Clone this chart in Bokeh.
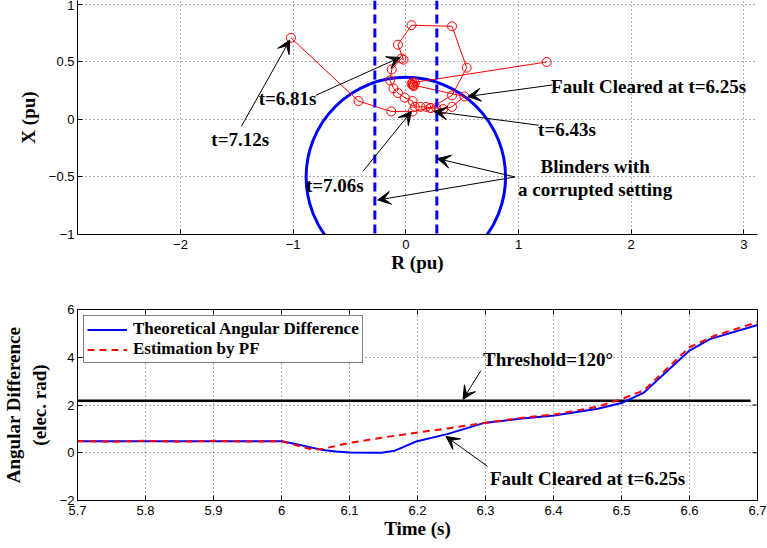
import math
from bokeh.plotting import figure
from bokeh.models import Label, Arrow, VeeHead, Span, FixedTicker, Range1d
from bokeh.layouts import column
from bokeh.embed import file_html
from bokeh.resources import INLINE

# ---------------- data: impedance plane ----------------
traj_R = [1.25, 0.06, 0.07, 0.05, 0.08, 0.07, 0.06, 0.52, 0.41, 0.33, 0.27, 0.22, 0.18,
          0.13, 0.08, 0.06, -0.01, -0.07, -0.11, -0.14, -0.125, -0.04, -0.02, -0.07,
          0.05, 0.41, 0.54, 0.41, 0.22, 0.06, -0.13, -0.42, -1.02]
traj_X = [0.50, 0.32, 0.30, 0.31, 0.32, 0.29, 0.30, 0.20, 0.11, 0.09, 0.10, 0.10, 0.11,
          0.11, 0.11, 0.16, 0.19, 0.23, 0.27, 0.34, 0.435, 0.53, 0.52, 0.65,
          0.82, 0.81, 0.45, 0.21, 0.10, 0.07, 0.07, 0.16, 0.71]
mho_center_R = [0.0]
mho_center_X = [-0.5]
mho_radius = 0.885
blinder_R = [-0.275, 0.275]

R_ticks = [-2, -1, 0, 1, 2, 3]
R_tick_labels = ["\u22122", "\u22121", "0", "1", "2", "3"]
X_ticks = [-1, -0.5, 0, 0.5, 1]
X_tick_labels = ["\u22121", "\u22120.5", "0", "0.5", "1"]

# ---------------- data: angular difference ----------------
time_theory = [5.70, 6.00, 6.019, 6.058, 6.08, 6.10, 6.13, 6.147, 6.166, 6.198, 6.245,
               6.298, 6.35, 6.401, 6.465, 6.50, 6.533, 6.60, 6.63, 6.70]
angle_theory = [0.48, 0.48, 0.38, 0.13, 0.05, 0.01, 0.00, 0.00, 0.08, 0.47, 0.79,
                1.25, 1.42, 1.56, 1.84, 2.08, 2.52, 4.28, 4.76, 5.35]
time_pf = [5.70, 5.75, 5.80, 5.85, 5.90, 5.95, 6.00, 6.046, 6.06, 6.10, 6.147, 6.198,
           6.245, 6.298, 6.35, 6.401, 6.465, 6.499, 6.533, 6.60, 6.637, 6.70]
angle_pf = [0.49, 0.46, 0.50, 0.46, 0.50, 0.47, 0.48, 0.13, 0.16, 0.41, 0.63, 0.84,
            1.02, 1.25, 1.45, 1.60, 1.93, 2.24, 2.61, 4.42, 4.90, 5.47]
threshold_t = [5.70, 6.69]
threshold_val = [2.18, 2.18]

T_ticks = [5.7, 5.8, 5.9, 6.0, 6.1, 6.2, 6.3, 6.4, 6.5, 6.6, 6.7]
T_tick_labels = ["5.7", "5.8", "5.9", "6", "6.1", "6.2", "6.3", "6.4", "6.5", "6.6", "6.7"]
A_ticks = [-2, 0, 2, 4, 6]
A_tick_labels = ["\u22122", "0", "2", "4", "6"]
T_range = (5.7, 6.7)
A_range = (-2, 6)

SERIF = "Liberation Serif"
SANS = "Liberation Sans"
NOTE_SIZE = "19px"


def style_axes(p, xticks, xlabels, yticks, ylabels):
    p.xaxis.ticker = FixedTicker(ticks=xticks)
    p.yaxis.ticker = FixedTicker(ticks=yticks)
    p.xaxis.major_label_overrides = {t: l for t, l in zip(xticks, xlabels)}
    p.yaxis.major_label_overrides = {t: l for t, l in zip(yticks, ylabels)}
    for ax in (p.xaxis, p.yaxis):
        ax.major_tick_in = 5
        ax.major_tick_out = 0
        ax.minor_tick_line_color = None
        ax.axis_line_color = "black"
        ax.major_tick_line_color = "black"
        ax.major_label_text_font = SANS
        ax.major_label_text_font_size = "13px"
        ax.major_label_text_color = "black"
        ax.axis_label_text_font = SERIF
        ax.axis_label_text_font_style = "bold"
        ax.axis_label_text_font_size = "19px"
        ax.axis_label_text_color = "black"
        ax.axis_label_standoff = 0
    p.yaxis.major_label_standoff = 3
    p.yaxis.axis_label_standoff = 7
    p.xaxis.major_label_standoff = 5
    p.xgrid.ticker = FixedTicker(ticks=xticks)
    p.ygrid.ticker = FixedTicker(ticks=yticks)
    for g in (p.xgrid, p.ygrid):
        g.grid_line_color = "#333333"
        g.grid_line_dash = "1 3"
        g.grid_line_width = 1
        g.grid_line_alpha = 0.8


def note(p, x, y, text, size=NOTE_SIZE):
    p.add_layout(Label(x=x, y=y, text=text, text_align="center", text_baseline="middle",
                       text_font=SERIF, text_font_style="bold", text_font_size=size,
                       text_color="black"))


def arrow(p, x0, y0, x1, y1):
    p.add_layout(Arrow(x_start=x0, y_start=y0, x_end=x1, y_end=y1, line_width=1,
                       line_color="black",
                       end=VeeHead(size=13, fill_color="black", line_color="black",
                                   line_width=1)))


# ---------------- top figure ----------------
p1 = figure(width=767, height=275, output_backend="svg", toolbar_location=None,
            x_range=Range1d(-2.914, 3.121), y_range=Range1d(-1.0, 1.0345),
            min_border_left=67, min_border_right=0, min_border_top=0, min_border_bottom=39)
p1.outline_line_color = None
p1.background_fill_color = "white"
p1.border_fill_color = "white"
style_axes(p1, R_ticks, R_tick_labels, X_ticks, X_tick_labels)
p1.xaxis.axis_label = "R (pu)"
p1.yaxis.axis_label = "X (pu)"

p1.circle(x=mho_center_R, y=mho_center_X, radius=mho_radius, fill_color=None,
          line_color="#0000FF", line_width=3)
for bx in blinder_R:
    p1.add_layout(Span(location=bx, dimension="height", line_color="#0000FF",
                       line_width=3, line_dash="9 5"))
p1.line(traj_R, traj_X, line_color="#FF0000", line_width=1)
p1.scatter(traj_R, traj_X, marker="circle", size=9, fill_color=None,
           line_color="#FF0000", line_width=1)

note(p1, -1.47, -0.17, "t=7.12s")
note(p1, -1.05, 0.18, "t=6.81s")
note(p1, -0.63, -0.57, "t=7.06s")
note(p1, 1.43, -0.086, "t=6.43s")
note(p1, 2.155, 0.29, "Fault Cleared at t=6.25s")
note(p1, 1.68, -0.41, "Blinders with")
note(p1, 1.68, -0.61, "a corrupted setting")

arrow(p1, -1.46, -0.06, -1.03, 0.69)
arrow(p1, -0.80, 0.21, -0.05, 0.54)
arrow(p1, -0.38, -0.45, 0.05, 0.07)
arrow(p1, 1.18, -0.05, 0.25, 0.07)
arrow(p1, 1.30, 0.30, 0.55, 0.20)
arrow(p1, 0.97, -0.50, 0.28, -0.34)
arrow(p1, 0.97, -0.50, -0.25, -0.70)

# ---------------- bottom figure ----------------
p2 = figure(width=767, height=273, output_backend="svg", toolbar_location=None,
            x_range=Range1d(*T_range), y_range=Range1d(*A_range),
            min_border_left=76, min_border_right=10, min_border_top=34, min_border_bottom=48)
p2.outline_line_color = "black"
p2.outline_line_width = 1
p2.background_fill_color = "white"
p2.border_fill_color = "white"
style_axes(p2, T_ticks, T_tick_labels, A_ticks, A_tick_labels)
p2.xaxis.axis_label = "Time (s)"
p2.yaxis.axis_label = "Angular Difference\n(elec. rad)"

# inward tick marks on the top and right edges of the box
p2.scatter(x=T_ticks, y=[A_range[1]] * len(T_ticks), marker="dash", angle=math.pi / 2,
           size=10, line_color="black", line_width=1)
p2.scatter(x=[T_range[1]] * len(A_ticks), y=A_ticks, marker="dash",
           size=10, line_color="black", line_width=1)

p2.line(threshold_t, threshold_val, line_color="black", line_width=2.5)
p2.line(time_theory, angle_theory, line_color="#0000FF", line_width=2,
        legend_label="Theoretical Angular Difference")
p2.line(time_pf, angle_pf, line_color="#FF0000", line_width=2, line_dash="7 5",
        legend_label="Estimation by PF")

lg = p2.legend[0]
lg.location = "top_left"
lg.margin = 6
lg.padding = 3
lg.spacing = 0
lg.glyph_width = 40
lg.glyph_height = 19
lg.label_height = 19
lg.label_standoff = 6
lg.label_text_font = SERIF
lg.label_text_font_style = "bold"
lg.label_text_font_size = "17px"
lg.label_text_color = "black"
lg.border_line_color = "black"
lg.border_line_width = 1
lg.background_fill_alpha = 1.0

note(p2, 6.392, 3.91, "Threshold=120\u00b0")
note(p2, 6.45, -1.09, "Fault Cleared at t=6.25s")
arrow(p2, 6.293, 3.43, 6.267, 2.24)
arrow(p2, 6.303, -0.57, 6.242, 0.68)

layout = column(p1, p2, spacing=0)
open("out.html", "w").write(file_html(layout, INLINE))
